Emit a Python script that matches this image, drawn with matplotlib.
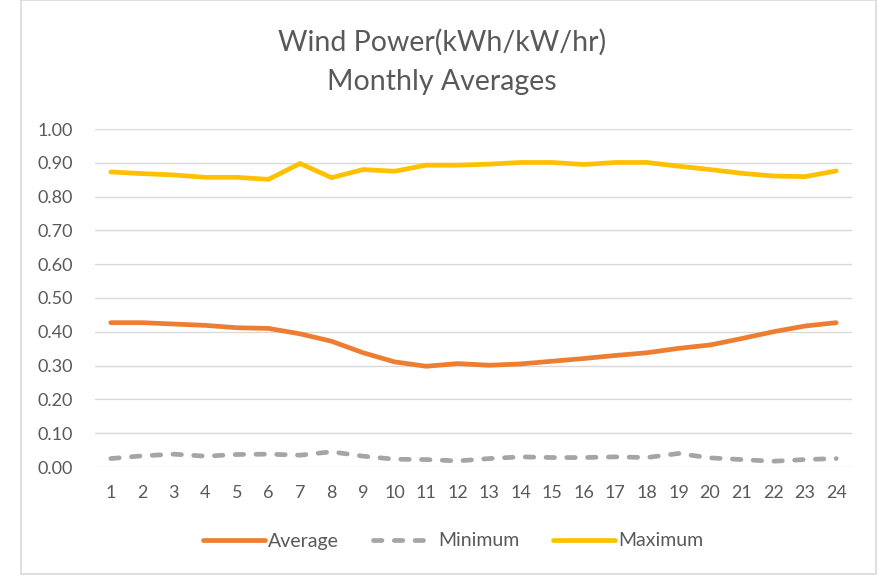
import numpy as np
import matplotlib
matplotlib.use("Agg")
import matplotlib.pyplot as plt
from matplotlib.patches import Rectangle

# ---- data ----
months = list(range(1, 25))
average = [0.427, 0.427, 0.423, 0.419, 0.412, 0.410, 0.394, 0.372, 0.338, 0.311,
           0.298, 0.306, 0.301, 0.305, 0.313, 0.321, 0.330, 0.338, 0.351, 0.361,
           0.380, 0.400, 0.417, 0.427]
minimum = [0.025, 0.033, 0.038, 0.032, 0.037, 0.038, 0.035, 0.045, 0.032, 0.023,
           0.022, 0.018, 0.025, 0.030, 0.028, 0.028, 0.030, 0.028, 0.040, 0.027,
           0.022, 0.017, 0.022, 0.025]
maximum = [0.873, 0.868, 0.864, 0.857, 0.857, 0.851, 0.898, 0.856, 0.880, 0.875,
           0.893, 0.893, 0.896, 0.901, 0.901, 0.895, 0.901, 0.901, 0.890, 0.880,
           0.869, 0.861, 0.859, 0.876]
yticks = np.arange(0, 1.01, 0.1)

plt.rcParams["font.family"] = ["Lato", "DejaVu Sans"]
txt = "#595959"

fig = plt.figure(figsize=(8.84, 5.78), dpi=100)
W, H = 884, 578
# chart frame
fig.patches.append(Rectangle((21 / W, 4 / H), 855 / W, 1 - 4 / H,
                             transform=fig.transFigure, fill=False,
                             edgecolor="#d9d9d9", linewidth=1.2))

ax = fig.add_axes([95 / W, 1 - 467 / H, (852 - 95) / W, (467 - 129) / H])
ax.plot(months, average, color="#ED7D31", lw=3.4, label="Average", solid_capstyle="round")
ax.plot(months, minimum, color="#A5A5A5", lw=3.4, ls=(0, (1.8, 2.6)), label="Minimum",
        dash_capstyle="round")
ax.plot(months, maximum, color="#FFC000", lw=3.4, label="Maximum", solid_capstyle="round")

ax.set_xlim(0.5, 24.5)
ax.set_ylim(0, 1.0)
ax.set_yticks(yticks)
ax.set_yticklabels([f"{v:.2f}" for v in yticks])
ax.set_xticks(months)
ax.grid(axis="y", color="#d9d9d9", lw=1)
ax.set_axisbelow(True)
for s in ax.spines.values():
    s.set_visible(False)
ax.tick_params(length=0, labelsize=13, colors=txt)
ax.tick_params(axis="y", pad=16)
ax.tick_params(axis="x", pad=13)

fig.text(0.5, 1 - 42 / H, "Wind Power(kWh/kW/hr)", ha="center", va="center",
         fontsize=20.5, color=txt)
fig.text(0.5, 1 - 82 / H, "Monthly Averages", ha="center", va="center",
         fontsize=20.5, color=txt)

ax.legend(loc="center", bbox_to_anchor=(453 / W, 1 - 541 / H), bbox_transform=fig.transFigure,
          ncol=3, frameon=False, fontsize=14, labelcolor=txt, handlelength=3.2,
          handletextpad=0.15, columnspacing=1.75)

fig.savefig("out.png", dpi=100)
